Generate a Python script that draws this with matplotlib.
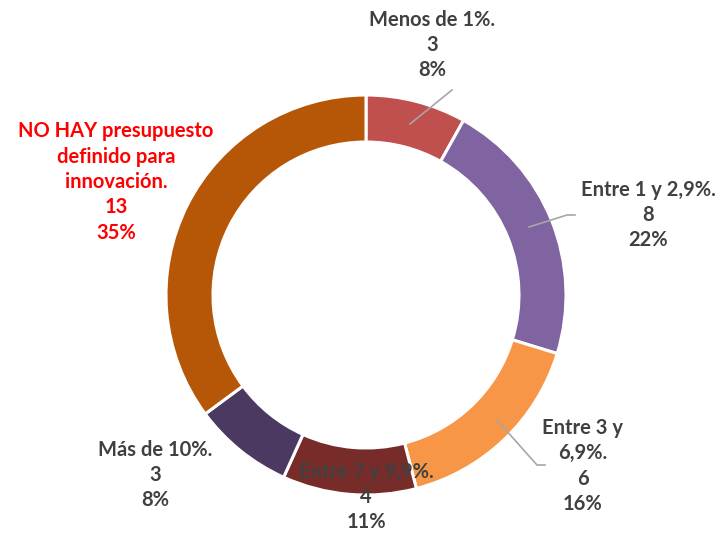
import matplotlib.pyplot as plt

labels = ['Menos de 1%.', 'Entre 1 y 2,9%.', 'Entre 3 y\n6,9%.', 'Entre 7 y 9,9%.',
          'Más de 10%.', 'NO HAY presupuesto\ndefinido para\ninnovación.']
values = [3, 8, 6, 4, 3, 13]
colors = ['#C0504D', '#8064A2', '#F79646', '#772C2A', '#4B3961', '#B65708']
text_colors = ['#404040', '#404040', '#404040', '#404040', '#404040', '#FF0000']

W, H = 722, 539
CX, CY, R = 366, 295, 200


def px(x, y):
    # pixel position -> data coords (pie radius 1)
    return (x - CX) / R, (CY - y) / R


fig = plt.figure(figsize=(W / 100, H / 100), dpi=100)
ax = fig.add_axes([0, 0, 1, 1])
ax.pie(values, colors=colors, startangle=90, counterclock=False, radius=1,
       wedgeprops=dict(width=0.235, edgecolor='white', linewidth=2.2))
ax.set_xlim(-CX / R, (W - CX) / R)
ax.set_ylim((CY - H) / R, CY / R)
ax.set_aspect('equal')
ax.axis('off')

total = sum(values)
# label block centres (pixels, centre of the block)
label_pos = [(432, 45), (648, 215), (583, 466), (366, 497), (155, 475), (116, 182)]
# leader lines (pixels)
leaders = {
    0: [(410, 124), (452, 90)],
    1: [(529, 227), (567, 215), (575, 215)],
    2: [(497, 420), (537, 465), (545, 465)],
}

for i, (lab, v) in enumerate(zip(labels, values)):
    pct = round(v / total * 100)
    txt = f'{lab}\n{v}\n{pct}%'
    x, y = px(*label_pos[i])
    ax.text(x, y, txt, ha='center', va='center', fontsize=14.5, fontweight='bold',
            family=['Lato', 'DejaVu Sans'], color=text_colors[i], linespacing=1.33)

for i, pts in leaders.items():
    xs = [px(*p)[0] for p in pts]
    ys = [px(*p)[1] for p in pts]
    ax.plot(xs, ys, color='#A6A6A6', lw=1.2)

fig.savefig('out.png', dpi=100)
